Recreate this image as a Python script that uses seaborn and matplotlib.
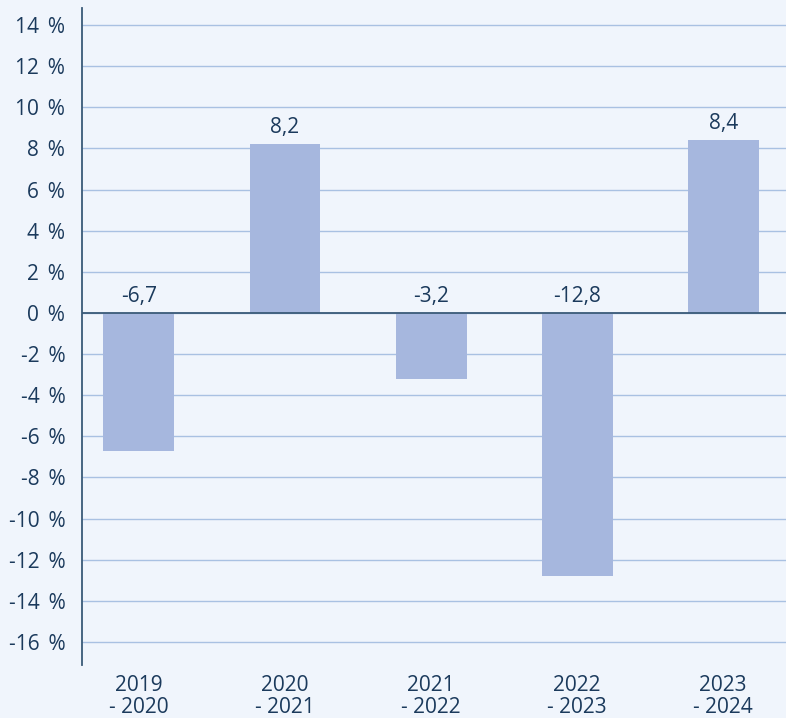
import numpy as np
import pandas as pd
import seaborn as sns
import matplotlib.pyplot as plt
from matplotlib.ticker import FuncFormatter

# data
periods = ['2019\n- 2020', '2020\n- 2021', '2021\n- 2022', '2022\n- 2023', '2023\n- 2024']
changes = [-6.7, 8.2, -3.2, -12.8, 8.4]

bg = '#f0f5fc'
bar_color = '#a6b7de'
text_color = '#1b3a5c'
grid_color = '#a9c1e2'

sns.set_theme(style='white')
plt.rcParams['font.family'] = ['Open Sans', 'DejaVu Sans']

df = pd.DataFrame({'period': periods, 'change': changes})

fig = plt.figure(figsize=(7.86, 7.18), dpi=100, facecolor=bg)
ax = fig.add_axes([0.1043, 0.0738, 0.8957, 0.9151])
ax.set_facecolor(bg)

sns.barplot(data=df, x='period', y='change', color=bar_color, width=0.486,
            saturation=1, linewidth=0, edgecolor='none', ax=ax, zorder=3)

ax.set_ylim(-17.12, 14.83)
ax.set_xlim(-0.39, 4.43)
ax.set_yticks(np.arange(-16, 15, 2))
ax.yaxis.set_major_formatter(FuncFormatter(lambda v, p: '{:d}\u2009\u00a0%'.format(int(round(v)))))

ax.grid(axis='y', color=grid_color, linewidth=1.0, zorder=0)
ax.axhline(0, color='#3a5a78', linewidth=1.3, zorder=4)

for s in ['top', 'right', 'bottom']:
    ax.spines[s].set_visible(False)
ax.spines['left'].set_color('#3a5a78')
ax.spines['left'].set_linewidth(1.3)

ax.tick_params(axis='y', length=0, pad=12, labelsize=15, labelcolor=text_color)
ax.tick_params(axis='x', length=0, pad=7, labelsize=15, labelcolor=text_color)
for lbl in ax.get_xticklabels():
    lbl.set_linespacing(1.1)
ax.set_xlabel('')
ax.set_ylabel('')

for i, v in enumerate(changes):
    ax.text(i, max(v, 0) + 0.3, '{:.1f}'.format(v).replace('.', ','),
            ha='center', va='bottom', fontsize=15, color=text_color, zorder=5)

fig.savefig('out.png', dpi=100, facecolor=bg)
